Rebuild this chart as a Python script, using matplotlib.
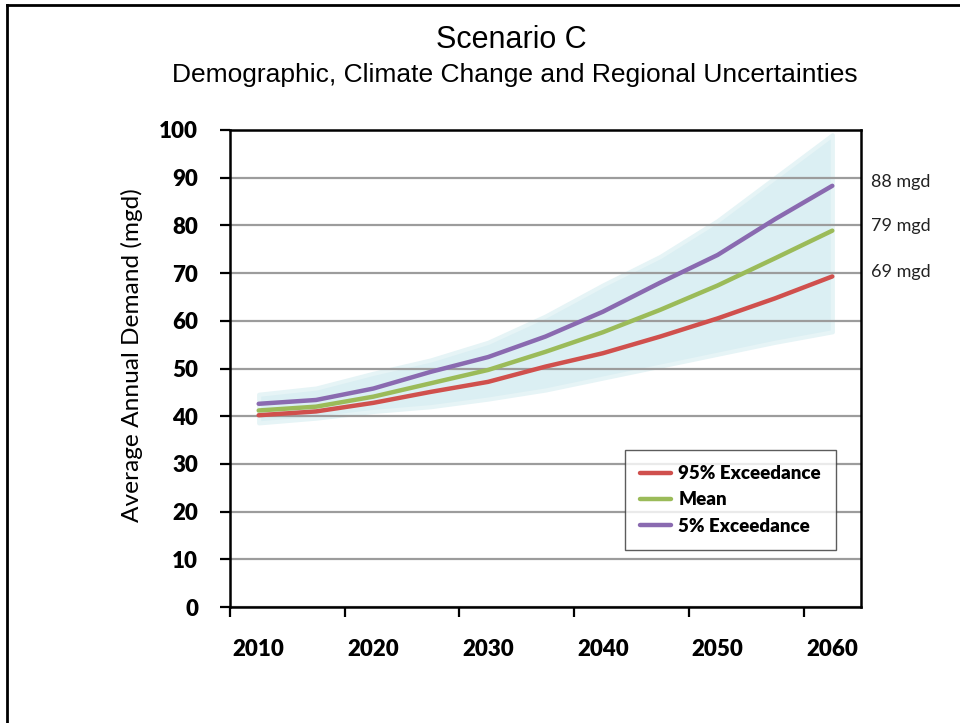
import matplotlib
matplotlib.use("Agg")
import matplotlib.pyplot as plt
from matplotlib.lines import Line2D

years = [2010, 2015, 2020, 2025, 2030, 2035, 2040, 2045, 2050, 2055, 2060]
exc95 = [40.2, 41.0, 42.8, 45.1, 47.2, 50.4, 53.2, 56.7, 60.5, 64.7, 69.3]
mean = [41.2, 42.0, 44.1, 46.9, 49.7, 53.5, 57.6, 62.3, 67.4, 73.1, 78.9]
exc5 = [42.6, 43.4, 45.8, 49.3, 52.4, 56.7, 61.9, 68.0, 73.8, 81.3, 88.3]
band_hi = [44.6, 45.9, 49.0, 51.8, 55.5, 61.0, 67.5, 73.5, 81.0, 90.0, 99.0]
band_lo = [38.6, 39.6, 41.0, 42.0, 43.6, 45.5, 48.0, 50.5, 53.0, 55.5, 57.7]
year_labels = [2010, 2020, 2030, 2040, 2050, 2060]
y_ticks = list(range(0, 101, 10))

fig = plt.figure(figsize=(9.6, 7.23), dpi=100)
ax = fig.add_axes([230 / 960, 1 - 607 / 723, 631 / 960, 477 / 723])

# uncertainty band (soft edge)
ax.fill_between(years, band_lo, band_hi, color="#dbeff3", lw=3, edgecolor="#e6f4f6")

ax.plot(years, exc95, color="#d0504d", lw=3.2, solid_capstyle="round", label="95% Exceedance")
ax.plot(years, mean, color="#9bbb59", lw=3.2, solid_capstyle="round", label="Mean")
ax.plot(years, exc5, color="#8a6ab0", lw=3.2, solid_capstyle="round", label="5% Exceedance")

# end labels
for v in [exc5[-1], mean[-1], exc95[-1]]:
    ax.annotate(f"{round(v)} mgd", xy=(1.0, v), xycoords=("axes fraction", "data"),
                xytext=(7, 3), textcoords="offset points", va="center", ha="left",
                fontsize=13, family="Lato", color="#222222", annotation_clip=False)

ax.set_xlim(years[0] - 2.5, years[-1] + 2.5)
ax.set_ylim(0, 100)

# category-style axis: ticks between, labels at centres
ax.set_xticks([y - 2.5 for y in year_labels])
ax.set_xticklabels([])
ax.set_xticks(year_labels, minor=True)
ax.set_xticklabels([str(y) for y in year_labels], minor=True,
                   fontsize=16, fontweight="heavy", family="Lato")
ax.tick_params(axis="x", which="major", direction="out", length=7, width=1.6)
ax.tick_params(axis="x", which="minor", length=0, pad=23)

ax.set_yticks(y_ticks)
ax.set_yticklabels([str(t) for t in y_ticks], fontsize=16, fontweight="heavy", family="Lato")
ax.tick_params(axis="y", direction="out", length=7, width=1.6, pad=16)

ax.yaxis.grid(True, color="#9c9c9c", lw=1.6)
for s in ax.spines.values():
    s.set_linewidth(1.8)
    s.set_color("black")

ax.set_ylabel("Average Annual Demand (mgd)", fontsize=17.6, family="Lato")
ax.yaxis.set_label_coords(-0.138, 0.528)

leg = ax.legend(loc="upper right", bbox_to_anchor=(0.960, 0.329), borderaxespad=0,
                fancybox=False, frameon=True, edgecolor="#333333",
                prop={"family": "Lato", "weight": "heavy", "size": 13.5},
                handlelength=1.65, handletextpad=0.4, labelspacing=0.5,
                borderpad=0.8)
leg.get_frame().set_linewidth(1.0)

fig.text(511 / 960, 1 - 40 / 723, "Scenario C", ha="center", va="center",
         fontsize=22, family="Liberation Sans")
fig.text(515 / 960, 1 - 75 / 723, "Demographic, Climate Change and Regional Uncertainties",
         ha="center", va="center", fontsize=19, family="Liberation Sans")

# outer frame (left and top edges)
fig.add_artist(Line2D([7 / 960, 7 / 960], [0, 1 - 5 / 723], color="black", lw=2))
fig.add_artist(Line2D([7 / 960, 1], [1 - 5 / 723, 1 - 5 / 723], color="black", lw=2))

fig.savefig("out.png", dpi=100)
